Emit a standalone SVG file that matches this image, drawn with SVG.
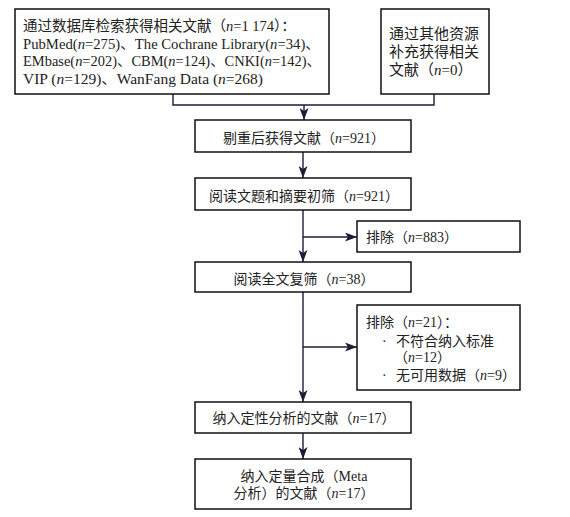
<svg xmlns="http://www.w3.org/2000/svg" width="570" height="517" viewBox="0 0 570 517">
<defs>
<style>
.box{fill:#fff;stroke:#111;stroke-width:1.5}
.t{font-family:"Liberation Serif","Noto Sans CJK SC",serif;fill:#222;font-size:14px}
.c{text-anchor:middle}
.i{font-style:italic}
.ln{fill:none;stroke:#1c1c38;stroke-width:1.4}
</style>
<marker id="ah" markerUnits="userSpaceOnUse" markerWidth="12" markerHeight="9" refX="12" refY="4.5" orient="auto">
<path d="M0,0 L12,4.5 L0,9 L3,4.5 z" fill="#1c1c38"/>
</marker>
</defs>
<rect width="570" height="517" fill="#fff"/>
<g id="connectors">
<path class="ln" d="M173,94 V105 H434 V94"/>
<path class="ln" d="M304,105 V120" marker-end="url(#ah)"/>
<path class="ln" d="M303,152 V178" marker-end="url(#ah)"/>
<path class="ln" d="M303,210 V262" marker-end="url(#ah)"/>
<path class="ln" d="M303,237 H357" marker-end="url(#ah)"/>
<path class="ln" d="M303,292 V402" marker-end="url(#ah)"/>
<path class="ln" d="M303,347 H357" marker-end="url(#ah)"/>
<path class="ln" d="M303,433 V459" marker-end="url(#ah)"/>
</g>
<g id="n1">
<rect class="box" x="15" y="9" width="314" height="85"/>
<text class="t" style="font-size:14.5px" x="23" y="31">通过数据库检索获得相关文献（<tspan class="i">n</tspan>=1 174）：</text>
<text class="t" style="font-size:14.5px" x="23" y="48.5" textLength="297" lengthAdjust="spacingAndGlyphs">PubMed(<tspan class="i">n</tspan>=275)、The Cochrane Library(<tspan class="i">n</tspan>=34)、</text>
<text class="t" style="font-size:14.5px" x="23" y="66" textLength="298" lengthAdjust="spacingAndGlyphs">EMbase(<tspan class="i">n</tspan>=202)、CBM(<tspan class="i">n</tspan>=124)、CNKI(<tspan class="i">n</tspan>=142)、</text>
<text class="t" style="font-size:14.5px" x="23" y="84" textLength="240" lengthAdjust="spacingAndGlyphs">VIP (<tspan class="i">n</tspan>=129)、WanFang Data (<tspan class="i">n</tspan>=268)</text>
</g>
<g id="n2">
<rect class="box" x="381" y="9" width="108" height="85"/>
<text class="t" style="font-size:15px" x="389" y="39">通过其他资源</text>
<text class="t" style="font-size:15px" x="389" y="57">补充获得相关</text>
<text class="t" style="font-size:15px" x="389" y="75">文献（<tspan class="i">n</tspan>=0）</text>
</g>
<g id="n3">
<rect class="box" x="195" y="120" width="216" height="32"/>
<text class="t c" x="304" y="143">剔重后获得文献（<tspan class="i">n</tspan>=921）</text>
</g>
<g id="n4">
<rect class="box" x="195" y="178" width="216" height="32"/>
<text class="t c" x="304" y="201">阅读文题和摘要初筛（<tspan class="i">n</tspan>=921）</text>
</g>
<g id="n5">
<rect class="box" x="357" y="221" width="163" height="31"/>
<text class="t" x="366" y="242">排除（<tspan class="i">n</tspan>=883）</text>
</g>
<g id="n6">
<rect class="box" x="195" y="262" width="216" height="30"/>
<text class="t c" x="304" y="284">阅读全文复筛（<tspan class="i">n</tspan>=38）</text>
</g>
<g id="n7">
<rect class="box" x="357" y="305" width="163" height="85"/>
<text class="t" x="366" y="327">排除（<tspan class="i">n</tspan>=21）：</text>
<text class="t" x="382" y="346">·</text>
<text class="t" x="396" y="346">不符合纳入标准</text>
<text class="t" x="394" y="362">（<tspan class="i">n</tspan>=12）</text>
<text class="t" x="382" y="380">·</text>
<text class="t" x="396" y="380">无可用数据（<tspan class="i">n</tspan>=9）</text>
</g>
<g id="n8">
<rect class="box" x="195" y="402" width="216" height="31"/>
<text class="t c" x="304" y="423">纳入定性分析的文献（<tspan class="i">n</tspan>=17）</text>
</g>
<g id="n9">
<rect class="box" x="195" y="459" width="216" height="50"/>
<text class="t c" x="304" y="481">纳入定量合成（Meta</text>
<text class="t c" x="304" y="498">分析）的文献（<tspan class="i">n</tspan>=17）</text>
</g>
</svg>
